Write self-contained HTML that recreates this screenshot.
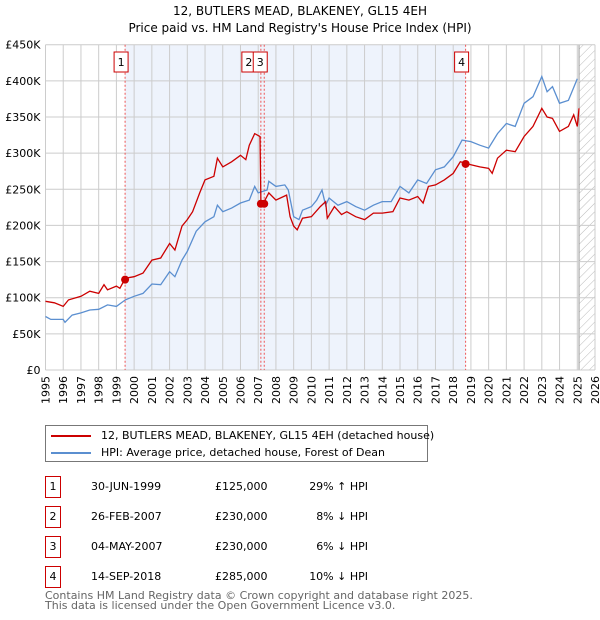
<!DOCTYPE html>
<html><head><meta charset="utf-8"><style>
body{margin:0;background:#fff;font-family:"DejaVu Sans","Liberation Sans",sans-serif;}
#wrap{position:relative;width:600px;height:620px;overflow:hidden;}
.t{position:absolute;font-size:11px;color:#000;white-space:nowrap;}
.box{position:absolute;border:1px solid #c00;width:16px;height:20px;text-align:center;line-height:20px;font-size:11px;}
svg text{font-family:"DejaVu Sans","Liberation Sans",sans-serif;}
</style></head><body>
<div id="wrap">
<svg id="chart" width="600" height="420" style="position:absolute;left:0;top:0"></svg>
<div style="position:absolute;left:45px;top:425px;width:381px;height:35px;border:1px solid #777;">
 <div style="position:absolute;left:5px;top:3px;font-size:11px;white-space:nowrap"><span style="display:inline-block;width:40px;height:2px;background:#c00;vertical-align:middle;margin-right:10px"></span>12, BUTLERS MEAD, BLAKENEY, GL15 4EH (detached house)</div>
 <div style="position:absolute;left:5px;top:20px;font-size:11px;white-space:nowrap"><span style="display:inline-block;width:40px;height:2px;background:#5b8fd0;vertical-align:middle;margin-right:10px"></span>HPI: Average price, detached house, Forest of Dean</div>
</div>
<div id="rows"></div>
<div class="t" style="left:45px;top:591px;color:#666;line-height:10px">Contains HM Land Registry data © Crown copyright and database right 2025.<br>This data is licensed under the Open Government Licence v3.0.</div>
</div>
<script>
const hpiYears=[1995,1995.3,1996,1996.1,1996.5,1997,1997.5,1998,1998.5,1999,1999.5,2000,2000.5,2001,2001.5,2002,2002.3,2002.7,2003,2003.5,2004,2004.5,2004.7,2005,2005.5,2006,2006.5,2006.8,2007,2007.5,2007.6,2008,2008.5,2008.7,2009,2009.3,2009.5,2010,2010.3,2010.6,2010.8,2011,2011.5,2012,2012.5,2013,2013.5,2014,2014.5,2015,2015.5,2016,2016.5,2017,2017.5,2018,2018.5,2019,2019.5,2020,2020.5,2021,2021.5,2022,2022.5,2023,2023.3,2023.6,2024,2024.5,2025];
const hpiValues=[74,70,70,66,76,79,83,84,90,88,97,102,106,119,118,136,129,152,164,192,205,212,228,219,224,231,235,254,245,249,261,254,256,249,212,208,221,226,235,249,228,238,228,233,226,221,228,233,233,254,245,263,258,277,281,295,318,316,311,307,327,341,337,369,378,406,385,392,369,373,403];
const priceYears=[1995,1995.5,1996,1996.3,1997,1997.5,1998,1998.3,1998.5,1999,1999.2,1999.5,2000,2000.5,2001,2001.5,2002,2002.3,2002.7,2003,2003.3,2003.7,2004,2004.5,2004.7,2005,2005.5,2006,2006.3,2006.5,2006.8,2007.1,2007.15,2007.3,2007.6,2008,2008.6,2008.8,2009,2009.2,2009.5,2010,2010.5,2010.8,2010.9,2011.3,2011.7,2012,2012.5,2013,2013.5,2014,2014.6,2015,2015.5,2016,2016.3,2016.6,2017,2017.5,2018,2018.4,2018.7,2019,2019.5,2020,2020.2,2020.5,2021,2021.5,2022,2022.5,2023,2023.3,2023.6,2024,2024.5,2024.8,2025,2025.1];
const priceValues=[95,93,88,97,102,109,106,118,111,116,113,127,129,134,152,155,175,166,199,208,219,245,263,268,293,281,288,297,291,311,327,323,233,231,245,235,242,212,199,194,210,212,226,233,210,226,215,219,212,208,217,217,219,238,235,240,231,254,256,263,272,288,286,284,281,279,272,293,304,302,323,337,362,350,348,330,337,353,337,362];
const saleYears=[1999.49,2007.15,2007.34,2018.7];
const saleValues=[125,230,230,285];
const saleLabels=["1","2","3","4"];
const saleDates=["30-JUN-1999","26-FEB-2007","04-MAY-2007","14-SEP-2018"];
const salePrices=["£125,000","£230,000","£230,000","£285,000"];
const saleHpi=["29% ↑ HPI","8% ↓ HPI","6% ↓ HPI","10% ↓ HPI"];
const yTicks=[0,50,100,150,200,250,300,350,400,450];
const yTickLabels=["£0","£50K","£100K","£150K","£200K","£250K","£300K","£350K","£400K","£450K"];
const xTicks=[];for(let y=1995;y<=2026;y++)xTicks.push(y);

const X0=45.5,X1=595,Y0=370,Y1=44.7;
const x=v=>X0+(v-1995)*(X1-X0)/31;
const y=v=>Y0-v*(Y0-Y1)/450;
const NS="http://www.w3.org/2000/svg";
const svg=document.getElementById('chart');
function mk(tag,attrs,parent){const e=document.createElementNS(NS,tag);for(const k in attrs)e.setAttribute(k,attrs[k]);(parent||svg).appendChild(e);return e;}
const defs=mk('defs',{});
const pat=mk('pattern',{id:'hatch',width:6,height:6,patternUnits:'userSpaceOnUse',patternTransform:'rotate(45)'},defs);
mk('line',{x1:0,y1:0,x2:0,y2:6,stroke:'#bbb','stroke-width':1},pat);
let r=mk('rect',{x:x(saleYears[0]),y:Y1,width:x(saleYears[3])-x(saleYears[0]),height:Y0-Y1,fill:'#eef3fc'});


r=mk('rect',{x:x(2025.1),y:Y1,width:X1-x(2025.1),height:Y0-Y1,fill:'url(#hatch)'});


mk('line',{x1:x(2025.1),x2:x(2025.1),y1:Y1,y2:Y0,stroke:'#999'});
xTicks.forEach(t=>{
 const l=mk('line',{x1:x(t),x2:x(t),y1:Y1,y2:Y0,stroke:'#ccc'});
 
 
 const tx=mk('text',{x:0,y:0,transform:`translate(${x(t)+4},${Y0+6}) rotate(-90)`,'text-anchor':'end','font-size':11,fill:'#000'});
 tx.textContent=t;
 
 
});
yTicks.forEach((t,i)=>{
 const l=mk('line',{x1:X0,x2:X1,y1:y(t),y2:y(t),stroke:'#ccc'});
 
 
 const tx=mk('text',{x:X0-5,y:y(t)+4,'text-anchor':'end','font-size':11,fill:'#000'});
 tx.textContent=yTickLabels[i];
 
 
});
saleYears.forEach((s,i)=>{
 const l=mk('line',{x1:x(s),x2:x(s),y1:Y1,y2:Y0,stroke:'#e55','stroke-dasharray':'2,2'});
 
 
});
function path(xs,vs,color,name){
 const d=xs.map((v,i)=>(i?'L':'M')+x(v).toFixed(1)+','+y(vs[i]).toFixed(1)).join('');
 const p=mk('path',{d,fill:'none',stroke:color,'stroke-width':1.3});
 
 
}
path(hpiYears,hpiValues,'#5b8fd0','hpi-line');
path(priceYears,priceValues,'#cc0000','price-line');
saleYears.forEach((s,i)=>{
 const c=mk('circle',{cx:x(s),cy:y(saleValues[i]),r:4,fill:'#cc0000'});
 
 
});
const boxOff=[-8,-16,-8,-8];
saleYears.forEach((s,i)=>{
 const g=mk('g',{});
 
 
 mk('rect',{x:x(s)+boxOff[i]-3,y:52,width:14,height:20,fill:'#fff',stroke:'#c00'},g);
 const t=mk('text',{x:x(s)+boxOff[i]+4,y:66,'text-anchor':'middle','font-size':11},g);
 t.textContent=saleLabels[i];
});
const tt=mk('text',{x:300,y:15,'text-anchor':'middle','font-size':12});tt.textContent="12, BUTLERS MEAD, BLAKENEY, GL15 4EH";


const st=mk('text',{x:300,y:32,'text-anchor':'middle','font-size':12});st.textContent="Price paid vs. HM Land Registry's House Price Index (HPI)";


const rows=document.getElementById('rows');
saleLabels.forEach((lab,i)=>{
 const top=476+i*30;
 const b=document.createElement('div');b.className='box';b.style.left='45px';b.style.top=top+'px';b.style.width='14px';b.textContent=lab;
 
 
 rows.appendChild(b);
 [[saleDates[i],91,'left'],[salePrices[i],215,'left'],[saleHpi[i],368,'right']].forEach(([txt,l,al],j)=>{
  const d=document.createElement('div');d.className='t';d.textContent=txt;d.style.top=(top+4)+'px';
  if(al==='right'){d.style.right=(600-l)+'px';}else d.style.left=l+'px';
  
  
  rows.appendChild(d);
 });
});
</script>
</body></html>
